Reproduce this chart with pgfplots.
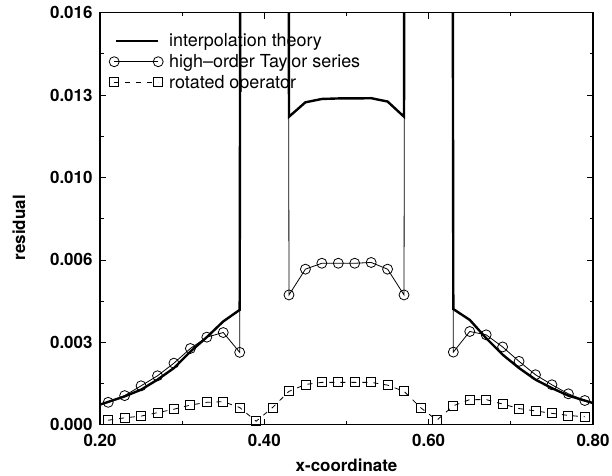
\documentclass[border=0pt]{standalone}
\usepackage{pgfplots}
\pgfplotsset{compat=1.18}
\usepackage{fontspec}
\setmainfont{TeX Gyre Heros}

\pgfplotsset{
  legline/.style={legend image code/.code={\draw[##1] (2bp,0bp) -- (44bp,0bp);}},
  legmark/.style={legend image code/.code={\draw[##1] plot coordinates {(0bp,0bp) (44bp,0bp)};}},
}

% values; 0.4 stands for "off the top of the chart"
\begin{document}
\begin{tikzpicture}
\begin{axis}[
    name=ax,
    scale only axis,
    width=493bp, height=412bp,
    xmin=0.2, xmax=0.8,
    ymin=0, ymax=0.016,
    xtick={0.2,0.4,0.6,0.8},
    xticklabels={0.20,0.40,0.60,0.80},
    ytick={0,0.0032,0.0064,0.0096,0.0128,0.016},
    yticklabels={0.000,0.003,0.006,0.010,0.013,0.016},
    minor x tick num=1, minor y tick num=1,
    scaled ticks=false,
    major tick length=6bp, minor tick length=3.5bp,
    tick style={black, line width=0.8bp},
    axis line style={line width=1.1bp},
    /pgf/number format/assume math mode=true,
    ticklabel style={font=\fontsize{17}{20}\selectfont\bfseries},
    xticklabel style={yshift=-6bp},
    yticklabel style={xshift=-4bp},
    xlabel={x-coordinate},
    ylabel={residual},
    label style={font=\fontsize{17}{20}\selectfont\bfseries},
    xlabel style={yshift=-5bp},
    ylabel style={at={(ticklabel cs:0.478,18bp)}},
    legend cell align=left,
    legend style={draw=none, fill=none, at={(0,1)}, anchor=north west,
                  xshift=9bp, yshift=-19bp,
                  font=\fontsize{18}{20}\selectfont,
                  row sep=2bp, column sep=4bp, inner sep=0pt},
    clip=true,
]
\addplot[black, line width=2.4bp, mark=none, legline]
coordinates {
(0.20,0.00078) (0.23,0.00110) (0.25,0.00136) (0.27,0.00175) (0.29,0.00220)
(0.31,0.00284) (0.33,0.00340) (0.35,0.00401) (0.37,0.00446)
(0.39,0.4) (0.41,0.4)
(0.43,0.01196) (0.45,0.01252) (0.47,0.01265) (0.49,0.01267) (0.51,0.01267)
(0.53,0.01268) (0.55,0.01255) (0.57,0.01196)
(0.59,0.4) (0.61,0.4)
(0.63,0.00449) (0.65,0.00407) (0.67,0.00336) (0.69,0.00272) (0.71,0.00220)
(0.73,0.00175) (0.75,0.00142) (0.77,0.00113) (0.80,0.00084)
};
\addlegendentry{interpolation theory}

\addplot[black, line width=0.8bp, mark=o, mark size=5bp,
    mark options={line width=0.8bp, fill=none}, legmark]
coordinates {
(0.21,0.00087) (0.23,0.00113) (0.25,0.00151) (0.27,0.00190) (0.29,0.00239)
(0.31,0.00296) (0.33,0.00340) (0.35,0.00358) (0.37,0.00281)
(0.39,0.4) (0.41,0.4)
(0.43,0.00504) (0.45,0.00604) (0.47,0.00627) (0.49,0.00627) (0.51,0.00627)
(0.53,0.00630) (0.55,0.00604) (0.57,0.00504)
(0.59,0.4) (0.61,0.4)
(0.63,0.00282) (0.65,0.00362) (0.67,0.00349) (0.69,0.00302) (0.71,0.00246)
(0.73,0.00194) (0.75,0.00155) (0.77,0.00120) (0.79,0.00094)
};
\addlegendentry{high--order Taylor series}

\addplot[black, line width=0.8bp, dash pattern=on 5bp off 6bp,
    mark=square, mark size=4.5bp,
    mark options={solid, line width=0.8bp, fill=none}, legmark]
coordinates {
(0.21,0.000174) (0.23,0.000267) (0.25,0.000334) (0.27,0.000468) (0.29,0.000601)
(0.31,0.000762) (0.33,0.000869) (0.35,0.000895) (0.37,0.000668) (0.39,0.000134)
(0.41,0.000668) (0.43,0.001296) (0.45,0.001563) (0.47,0.001644) (0.49,0.001644)
(0.51,0.001644) (0.53,0.001644) (0.55,0.001537) (0.57,0.001296) (0.59,0.000668)
(0.61,0.000174) (0.63,0.000735) (0.65,0.000975) (0.67,0.000975) (0.69,0.000802)
(0.71,0.000628) (0.73,0.000535) (0.75,0.000441) (0.77,0.000361) (0.79,0.000307)
};
\addlegendentry{rotated operator}
\end{axis}
\pgfresetboundingbox
\path[use as bounding box] ([xshift=-100bp,yshift=-51bp]ax.south west)
    rectangle ([xshift=19bp,yshift=12.7bp]ax.north east);
\end{tikzpicture}
\end{document}
